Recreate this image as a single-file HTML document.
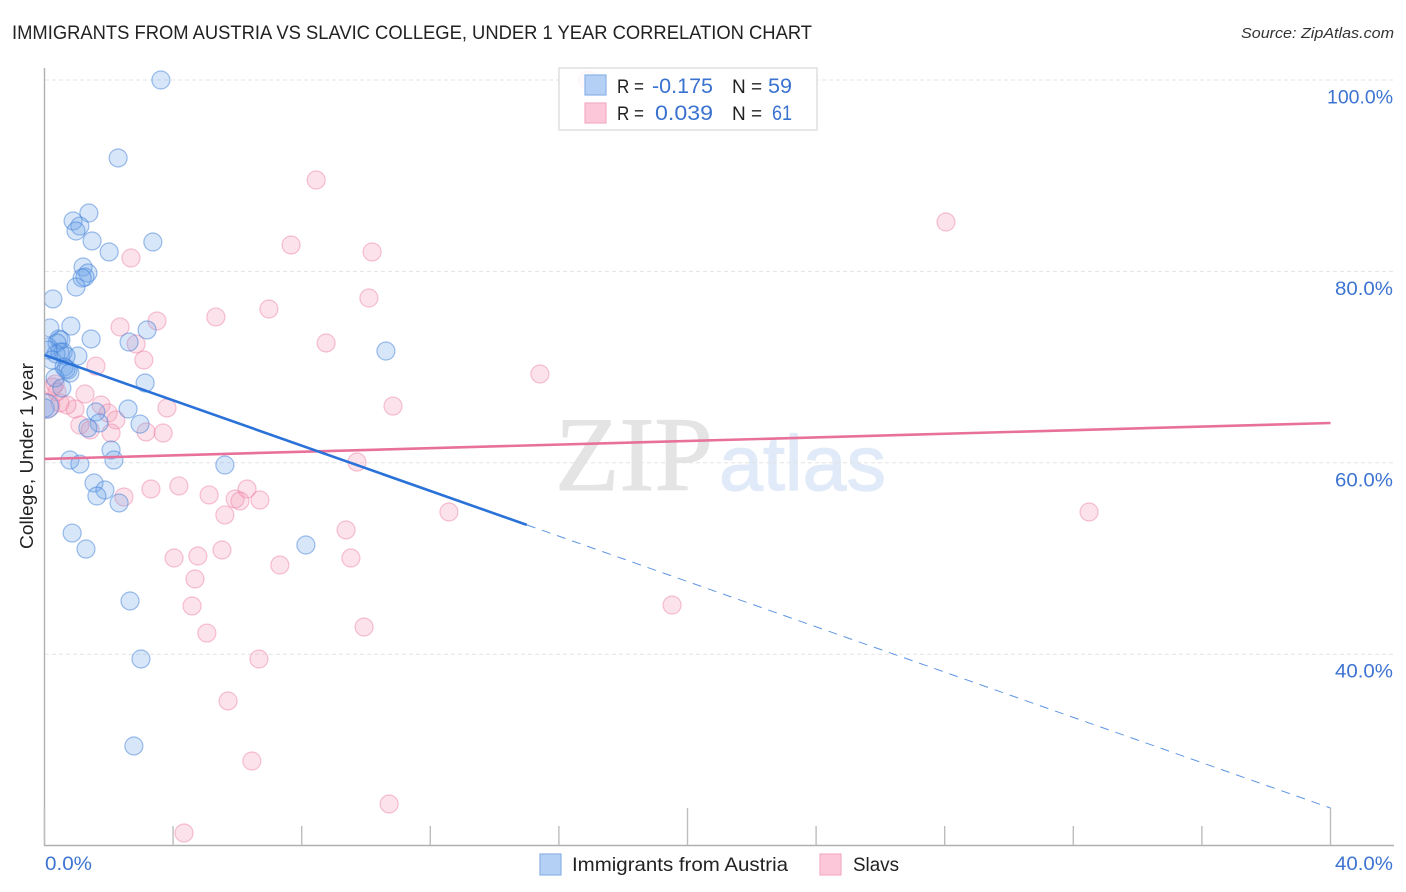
<!DOCTYPE html>
<html lang="en">
<head>
<meta charset="utf-8">
<title>Immigrants from Austria vs Slavic College, Under 1 Year Correlation Chart</title>
<style>
html,body{margin:0;padding:0;background:#fff;width:1406px;height:892px;overflow:hidden}
svg{display:block;font-family:"Liberation Sans",sans-serif}
</style>
</head>
<body>
<svg id="chart" width="1406" height="892" viewBox="0 0 1406 892" xmlns="http://www.w3.org/2000/svg">
<defs><clipPath id="plot-clip"><rect x="45" y="60" width="1349" height="785"/></clipPath></defs>
<text x="12" y="39" font-size="19" fill="#222" textLength="800" lengthAdjust="spacingAndGlyphs">IMMIGRANTS FROM AUSTRIA VS SLAVIC COLLEGE, UNDER 1 YEAR CORRELATION CHART</text>
<text x="1241" y="38" font-size="15" font-style="italic" fill="#333" textLength="153" lengthAdjust="spacingAndGlyphs">Source: ZipAtlas.com</text>
<g>
<text x="555" y="490" font-family="'Liberation Serif',serif" font-size="106" fill="#e4e4e4" stroke="#e4e4e4" stroke-width="1" textLength="158" lengthAdjust="spacingAndGlyphs">ZIP</text>
<text x="719" y="490" font-size="78" fill="#e0eaf8" stroke="#e0eaf8" stroke-width="1.2" textLength="167" lengthAdjust="spacingAndGlyphs">atlas</text>
</g>
<g id="grid"></g>
<g id="axes"></g>
<g id="points-slavs" clip-path="url(#plot-clip)"></g>
<g id="points-austria" clip-path="url(#plot-clip)"></g>
<g id="trends"></g>
<text transform="translate(33,456) rotate(-90)" font-size="18.5" fill="#222" text-anchor="middle" textLength="186" lengthAdjust="spacingAndGlyphs">College, Under 1 year</text>
<g>
<rect x="559" y="68" width="258" height="62" fill="#fff" fill-opacity="0.85" stroke="#ddd" stroke-width="1.4"/>
<rect x="585" y="75" width="21" height="20" fill="#b5d0f5" stroke="#8db2e6" stroke-width="1.2"/>
<rect x="585" y="103" width="21" height="20" fill="#fcc8d9" stroke="#f3adc5" stroke-width="1.2"/>
<text x="617" y="93" font-size="19" fill="#222" textLength="27" lengthAdjust="spacingAndGlyphs">R =</text>
<text x="652" y="93" font-size="21" fill="#3a72d0" textLength="61" lengthAdjust="spacingAndGlyphs">-0.175</text>
<text x="732" y="93" font-size="19" fill="#222">N =</text>
<text x="768" y="93" font-size="21" fill="#3a72d0" textLength="24" lengthAdjust="spacingAndGlyphs">59</text>
<text x="617" y="120" font-size="19" fill="#222" textLength="27" lengthAdjust="spacingAndGlyphs">R =</text>
<text x="655" y="120" font-size="21" fill="#3a72d0" textLength="58" lengthAdjust="spacingAndGlyphs">0.039</text>
<text x="732" y="120" font-size="19" fill="#222">N =</text>
<text x="772" y="120" font-size="21" fill="#3a72d0" textLength="20" lengthAdjust="spacingAndGlyphs">61</text>
</g>
<g>
<rect x="540" y="854" width="21" height="21" fill="#b5d0f5" stroke="#8db2e6" stroke-width="1.2"/>
<text x="572" y="871" font-size="19.5" fill="#222" textLength="216" lengthAdjust="spacingAndGlyphs">Immigrants from Austria</text>
<rect x="820" y="854" width="21" height="21" fill="#fcc8d9" stroke="#f3adc5" stroke-width="1.2"/>
<text x="853" y="871" font-size="19.5" fill="#222" textLength="46" lengthAdjust="spacingAndGlyphs">Slavs</text>
</g>
</svg>
<script>
const yTickValues = [100, 80, 60, 40];
const yTickLabels = ["100.0%", "80.0%", "60.0%", "40.0%"];
const xTickValues = [0, 4, 8, 12, 16, 20, 24, 28, 32, 36, 40];
const xMajorTicks = [0, 20, 40];
const xEndLabels = ["0.0%", "40.0%"];

const austriaX = [3.62,2.29,1.38,0.89,1.10,0.98,1.48,3.37,2.01,1.20,1.35,1.26,1.17,0.98,0.26,0.17,0.82,3.19,2.63,1.45,0.45,0.51,0.39,0.11,0.58,0.48,0.36,1.04,0.11,0.23,0.67,10.62,3.13,0.61,0.73,0.67,0.79,0.33,0.54,2.60,1.60,1.70,1.35,2.97,0.02,0.79,1.10,2.07,2.16,5.61,1.54,1.88,1.63,2.32,0.86,1.29,8.13,2.66,3.00,2.78];
const austriaY = [100,91.85,86.10,85.27,84.74,84.22,83.18,83.07,82.03,80.46,79.83,79.41,79.31,78.37,77.12,74.09,74.29,73.88,72.62,72.94,72.94,72.83,72.52,72.10,71.58,71.58,71.37,71.16,71.79,70.74,71.16,71.68,68.34,70.01,69.70,69.80,69.38,68.86,67.82,65.62,65.31,64.16,63.64,64.05,65.73,60.29,59.87,61.34,60.29,59.77,57.89,57.16,56.53,55.80,52.66,50.99,51.41,45.56,39.50,30.41];
const slavsX = [16.9,8.45,28.04,7.67,10.19,2.69,10.09,6.98,5.33,3.50,2.35,2.85,8.76,3.09,1.60,15.41,1.26,0.33,0.26,1.76,1.98,2.22,1.10,1.42,2.07,0.95,0.70,0.48,10.84,3.81,3.16,3.69,9.72,2.47,3.31,4.18,5.12,5.93,6.30,6.08,6.70,5.61,12.58,32.49,9.38,4.03,4.77,5.52,9.53,4.68,7.32,4.59,19.52,5.05,9.94,6.67,5.71,6.45,10.72,4.34,0.39];
const slavsY = [100,89.55,85.16,82.76,82.03,81.40,77.22,76.07,75.24,74.82,74.19,72.41,72.52,70.74,70.11,69.28,67.19,68.23,67.92,66.04,65.20,64.47,63.95,63.43,63.11,65.62,66.04,66.25,65.93,65.73,63.22,63.11,60.08,56.43,57.26,57.58,56.64,56.22,57.26,56.01,56.11,54.55,54.86,54.86,52.98,50.05,50.26,50.89,50.05,47.86,49.32,45.04,45.14,42.21,42.84,39.50,35.11,28.84,24.35,21.32,67.40];
const largeAustriaX = [0.06];
const largeAustriaY = [65.9];
const largeSlavsX = [0.1];
const largeSlavsY = [66.0];

const austriaTrend = [71.26, 23.93];
const slavsTrend = [60.4, 64.16];
const austriaSolidEnd = 15;
const xDomain = [0, 40];

const NS = "http://www.w3.org/2000/svg";
function xScale(v){ return 44.5 + (v - xDomain[0]) * 32.15; }
function yScale(v){ return 80 + (100 - v) * 9.57; }
function make(tag, attrs, parent, text){
  const el = document.createElementNS(NS, tag);
  for (const k in attrs) el.setAttribute(k, attrs[k]);
  if (text !== undefined) el.textContent = text;
  parent.appendChild(el);
  return el;
}
const axisColor = "#b0b0b0";
const grid = document.getElementById("grid");
const axes = document.getElementById("axes");

yTickValues.forEach((v, i) => {
  const line = make("line", {x1:45, x2:1394, y1:yScale(v), y2:yScale(v), stroke:"#e4e4e4", "stroke-width":1, "stroke-dasharray":"4 3"}, grid);
  
  
  const width = yTickLabels[i].length > 5 ? 66 : 58;
  const label = make("text", {x:1393 - width, y:yScale(v) + 23.5, "font-size":19.5, fill:"#3d74d2", textLength:width, lengthAdjust:"spacingAndGlyphs"}, axes, yTickLabels[i]);
  
  
});

const yAxisLine = make("line", {x1:44.5, x2:44.5, y1:68, y2:846, stroke:axisColor, "stroke-width":1.4}, axes);


const xAxisLine = make("line", {x1:44, x2:1394, y1:845.5, y2:845.5, stroke:axisColor, "stroke-width":1.4}, axes);



xTickValues.forEach(v => {
  const top = xMajorTicks.includes(v) ? 808 : 826;
  const tick = make("line", {x1:xScale(v), x2:xScale(v), y1:top, y2:845, stroke:"#bdbdbd", "stroke-width":1.4}, axes);
  
  
});

const xLabelLeft = make("text", {x:45, y:870, "font-size":19.5, fill:"#3d74d2", textLength:47, lengthAdjust:"spacingAndGlyphs"}, axes, xEndLabels[0]);


const xLabelRight = make("text", {x:1335, y:870, "font-size":19.5, fill:"#3d74d2", textLength:58, lengthAdjust:"spacingAndGlyphs"}, axes, xEndLabels[1]);



const blueStyle = {fill:"#6ea4ea", "fill-opacity":0.28, stroke:"#3f7fd8", "stroke-opacity":0.5, "stroke-width":1.2};
const pinkStyle = {fill:"#f59ab8", "fill-opacity":0.28, stroke:"#ea7aa0", "stroke-opacity":0.45, "stroke-width":1.2};

function drawSeries(groupId, xs, ys, r, style, name){
  const group = document.getElementById(groupId);
  xs.forEach((x, i) => {
    const c = make("circle", Object.assign({cx:xScale(x), cy:yScale(ys[i]), r:r}, style), group);
    
    
  });
}
drawSeries("points-slavs", slavsX, slavsY, 9, pinkStyle, "slavs-point");
drawSeries("points-slavs", largeSlavsX, largeSlavsY, 12, pinkStyle, "slavs-point-large");
drawSeries("points-austria", austriaX, austriaY, 9, blueStyle, "austria-point");
drawSeries("points-austria", largeAustriaX, largeAustriaY, 12, blueStyle, "austria-point-large");

const trends = document.getElementById("trends");
function trendAt(t, x){ return t[0] + (t[1] - t[0]) * (x - xDomain[0]) / (xDomain[1] - xDomain[0]); }
const slavLine = make("line", {x1:xScale(xDomain[0]), y1:yScale(trendAt(slavsTrend, xDomain[0])), x2:xScale(xDomain[1]), y2:yScale(trendAt(slavsTrend, xDomain[1])), stroke:"#e8719b", "stroke-width":2.6}, trends);


const ausSolid = make("line", {x1:xScale(xDomain[0]), y1:yScale(trendAt(austriaTrend, xDomain[0])), x2:xScale(austriaSolidEnd), y2:yScale(trendAt(austriaTrend, austriaSolidEnd)), stroke:"#2a72d8", "stroke-width":2.6}, trends);


const ausDash = make("line", {x1:xScale(austriaSolidEnd), y1:yScale(trendAt(austriaTrend, austriaSolidEnd)), x2:xScale(xDomain[1]), y2:yScale(trendAt(austriaTrend, xDomain[1])), stroke:"#2a72d8", "stroke-opacity":0.75, "stroke-width":1, "stroke-dasharray":"9 7"}, trends);


</script>
</body>
</html>
